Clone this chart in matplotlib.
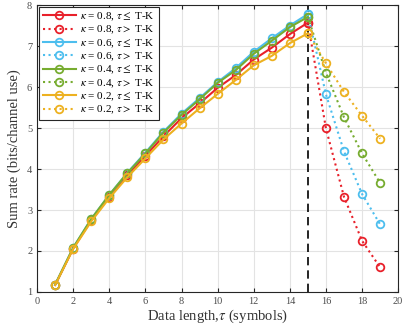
import matplotlib
matplotlib.use("Agg")
import matplotlib.pyplot as plt

plt.rcParams['font.family'] = ['Liberation Serif', 'DejaVu Serif']
plt.rcParams['mathtext.fontset'] = 'stix'

# Data
x_low = [1, 2, 3, 4, 5, 6, 7, 8, 9, 10, 11, 12, 13, 14, 15]
x_high = [15, 16, 17, 18, 19]

k08_low = [1.17, 2.06, 2.75, 3.32, 3.85, 4.32, 4.80, 5.24, 5.60, 5.98, 6.29, 6.67, 6.96, 7.29, 7.57]
k06_low = [1.18, 2.08, 2.78, 3.37, 3.91, 4.40, 4.91, 5.35, 5.73, 6.12, 6.46, 6.86, 7.19, 7.50, 7.78]
k04_low = [1.18, 2.08, 2.78, 3.37, 3.90, 4.38, 4.89, 5.32, 5.70, 6.10, 6.41, 6.81, 7.13, 7.46, 7.71]
k02_low = [1.17, 2.05, 2.72, 3.29, 3.80, 4.26, 4.72, 5.11, 5.48, 5.83, 6.17, 6.53, 6.76, 7.07, 7.31]

k08_high = [7.57, 4.99, 3.32, 2.25, 1.60]
k06_high = [7.78, 5.82, 4.43, 3.39, 2.65]
k04_high = [7.71, 6.35, 5.26, 4.38, 3.66]
k02_high = [7.31, 6.58, 5.88, 5.30, 4.74]

kappas = ['0.8', '0.6', '0.4', '0.2']
colors = ['#E8202A', '#4DBEEE', '#77AC30', '#EDB120']
lows = [k08_low, k06_low, k04_low, k02_low]
highs = [k08_high, k06_high, k04_high, k02_high]

fig = plt.figure(figsize=(4.03, 3.36), dpi=100)
ax = fig.add_axes([0.092, 0.131, 0.896, 0.854])

for kap, c, lo, hi in zip(kappas, colors, lows, highs):
    ax.plot(x_low, lo, '-', color=c, marker='o', mfc='none', ms=5.5, mew=1.3, lw=1.5,
            label=r'$\kappa$ = ' + kap + r', $\tau \leq$ T-K')
    ax.plot(x_high, hi, ':', color=c, marker='o', mfc='none', ms=5.5, mew=1.3, lw=1.5,
            label=r'$\kappa$ = ' + kap + r', $\tau >$ T-K')

# boundary tau = T-K
ax.axvline(15, color='black', ls=(0, (5, 3)), lw=1.2, zorder=1)

ax.set_xlim(0, 20)
ax.set_ylim(1, 8)
ax.set_xticks(range(0, 21, 2))
ax.set_yticks(range(1, 9))
ax.grid(True, color='#e3e3e3', lw=0.8)
ax.set_axisbelow(True)
ax.tick_params(direction='in', top=True, right=True, labelsize=7.5, length=3,
               colors='#262626', labelcolor='#4d4d4d')
for s in ax.spines.values():
    s.set_color('#262626')
    s.set_linewidth(0.8)

ax.set_xlabel(r'Data length,$\tau$ (symbols)', fontsize=10.5, labelpad=1, color='#333333')
ax.set_ylabel('Sum rate (bits/channel use)', fontsize=10.5, labelpad=4, color='#333333')

leg = ax.legend(loc='upper left', fontsize=8, fancybox=False, framealpha=1,
                edgecolor='#262626', handlelength=3.0, borderpad=0.3,
                labelspacing=0.08, handletextpad=0.4, borderaxespad=0.2)
leg.get_frame().set_linewidth(0.8)

fig.savefig('out.png', dpi=100)
